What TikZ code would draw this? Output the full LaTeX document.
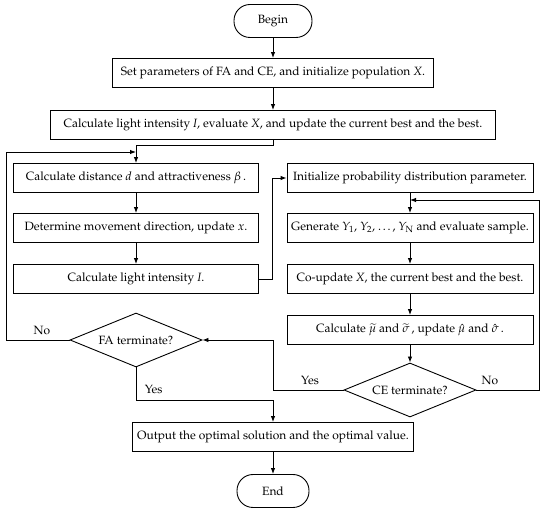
\documentclass[tikz,border=0pt]{standalone}
\usepackage[T1]{fontenc}
\usepackage{mathpazo}
\usetikzlibrary{arrows.meta,shapes.geometric}

\begin{document}
\begin{tikzpicture}[x=1pt,y=-1pt,line width=0.9pt,
    >={Latex[length=6pt,width=4.5pt]},
    font=\fontsize{12}{14}\selectfont,
    box/.style={draw,rectangle,minimum height=29pt,inner sep=2pt},
    term/.style={draw,rectangle,rounded corners=16pt,minimum height=33pt},
    cond/.style={draw,diamond,aspect=2.4,inner sep=0pt,minimum width=132pt,minimum height=54pt}]
  \useasboundingbox (0,0) rectangle (550,513);
  \draw
    (273,21) node[term,minimum width=78pt] (start){Begin}
    (273,73) node[box,minimum width=321pt] (set){Set parameters of FA and CE, and initialize population \textit{X}.}
    (273,125) node[box,minimum width=445pt] (light){Calculate light intensity \textit{I}, evaluate \textit{X}, and update the current best and the best.}
    (136,178) node[box,minimum width=245pt] (dist){Calculate distance $d$ and attractiveness $\beta$\,.}
    (136,228) node[box,minimum width=245pt] (dir){Determine movement direction, update $x$.}
    (136,279) node[box,minimum width=245pt] (light2){Calculate light intensity \textit{I}.}
    (136,340) node[cond] (fa){FA terminate?}
    (410,178) node[box,minimum width=246pt] (init){Initialize probability distribution parameter.}
    (410,228) node[box,minimum width=246pt] (gen){Generate $Y_{\mathrm{1}}$, $Y_{\mathrm{2}}$, \ldots, $Y_{\mathrm{N}}$ and evaluate sample.}
    (410,279) node[box,minimum width=246pt] (coup){Co-update \textit{X}, the current best and the best.}
    (410,330) node[box,minimum width=246pt] (mu){Calculate $\widetilde{\mu}$ and $\widetilde{\sigma}$\,, update $\hat{\mu}$ and $\hat{\sigma}$\,.}
    (410,390) node[cond] (ce){CE terminate?}
    (273,437) node[box,minimum width=281pt] (out){Output the optimal solution and the optimal value.}
    (273,491) node[term,minimum width=72pt] (stop){End};
  \coordinate (j1) at (136,145);
  \coordinate (l1) at (6,152);
  \coordinate (j2) at (136,152);
  \coordinate (r1) at (272,178);
  \coordinate (r2) at (539,200);
  \coordinate (j3) at (410,200);
  \coordinate (r3) at (273,340);
  \coordinate (j4) at (273,400);
  \draw
    (42,330) node (nofa){No}
    (141,389) node[anchor=west] (yesfa){Yes}
    (310,380) node (yesce){Yes}
    (490,380) node (noce){No};
  \begin{scope}[->]
    \draw (start) -- (set);
    \draw (set) -- (light);
    \draw (light) |- (j1) -- (dist);
    \draw (fa) -| (l1) -- (j2);
    \draw (dist) -- (dir);
    \draw (dir) -- (light2);
    \draw (light2) -| (r1) -- (init);
    \draw (init) -- (gen);
    \draw (gen) -- (coup);
    \draw (coup) -- (mu);
    \draw (mu) -- (ce);
    \draw (ce) -| (r2) -- (j3);
    \draw (ce) -| (r3) -- (fa);
    \draw (fa) |- (j4) -- (out);
    \draw (out) -- (stop);
  \end{scope}
\end{tikzpicture}
\end{document}
